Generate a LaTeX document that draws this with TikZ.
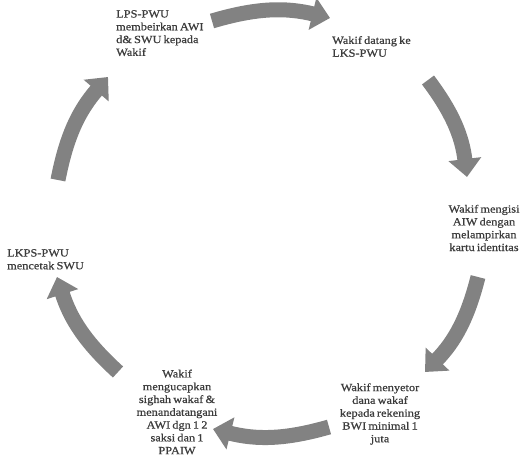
\documentclass[tikz,border=0pt]{standalone}
\usepackage{fontspec}
\setmainfont{Liberation Serif}[FakeStretch=1.12, FakeBold=0.7, WordSpace=0.7]
\usepackage{tikz}
\usetikzlibrary{arrows.meta, positioning}
\definecolor{mygray}{RGB}{130,130,130}
\definecolor{mytext}{RGB}{60,60,60}
\tikzset{
  steptext/.style={font=\fontsize{11}{12.8}\selectfont, text=mytext, inner sep=0pt},
  lefttext/.style={steptext, align=left, anchor=north west},
  midtext/.style={steptext, align=center},
  cycarrow/.style={-{Triangle[width=32pt,length=18pt]}, line width=15pt,
    color=mygray, bend left=15}
}

\begin{document}
\begin{tikzpicture}[x=1pt, y=1pt]
  \useasboundingbox (0,0) rectangle (522,458);

  % Steps of the cycle
  \node[lefttext] (beri) at (116,448) {LPS-PWU\\membeirkan AWI\\d\& SWU kepada\\Wakif};
  \node[lefttext] (datang) at (332,422) {Wakif datang ke\\LKS-PWU};
  \node[midtext] (isi) at (484,230) {Wakif mengisi\\AIW dengan\\melampirkan\\kartu identitas};
  \node[midtext] (setor) at (380,44) {Wakif menyetor\\dana wakaf\\kepada rekening\\BWI minimal 1\\juta};
  \node[midtext] (ucap) at (177,46) {Wakif\\mengucapkan\\sighah wakaf \&\\menandatangani\\AWI dgn 1 2\\saksi dan 1\\PPAIW};
  \node[lefttext] (cetak) at (7,209) {LKPS-PWU\\mencetak SWU};

  % Arrow ends
  \coordinate (a1) at (212,437); \coordinate (b1) at (330,440);
  \coordinate (a2) at (428,378); \coordinate (b2) at (467,281);
  \coordinate (a3) at (478,181); \coordinate (b3) at (425,86);
  \coordinate (a4) at (329,31);  \coordinate (b4) at (213,29);
  \coordinate (a5) at (118,86);  \coordinate (b5) at (57,181);
  \coordinate (a6) at (58,278);  \coordinate (b6) at (108,381);

  % Curved arrows
  \foreach \i in {1,...,6}
    \draw[cycarrow] (a\i) to (b\i);
\end{tikzpicture}
\end{document}
